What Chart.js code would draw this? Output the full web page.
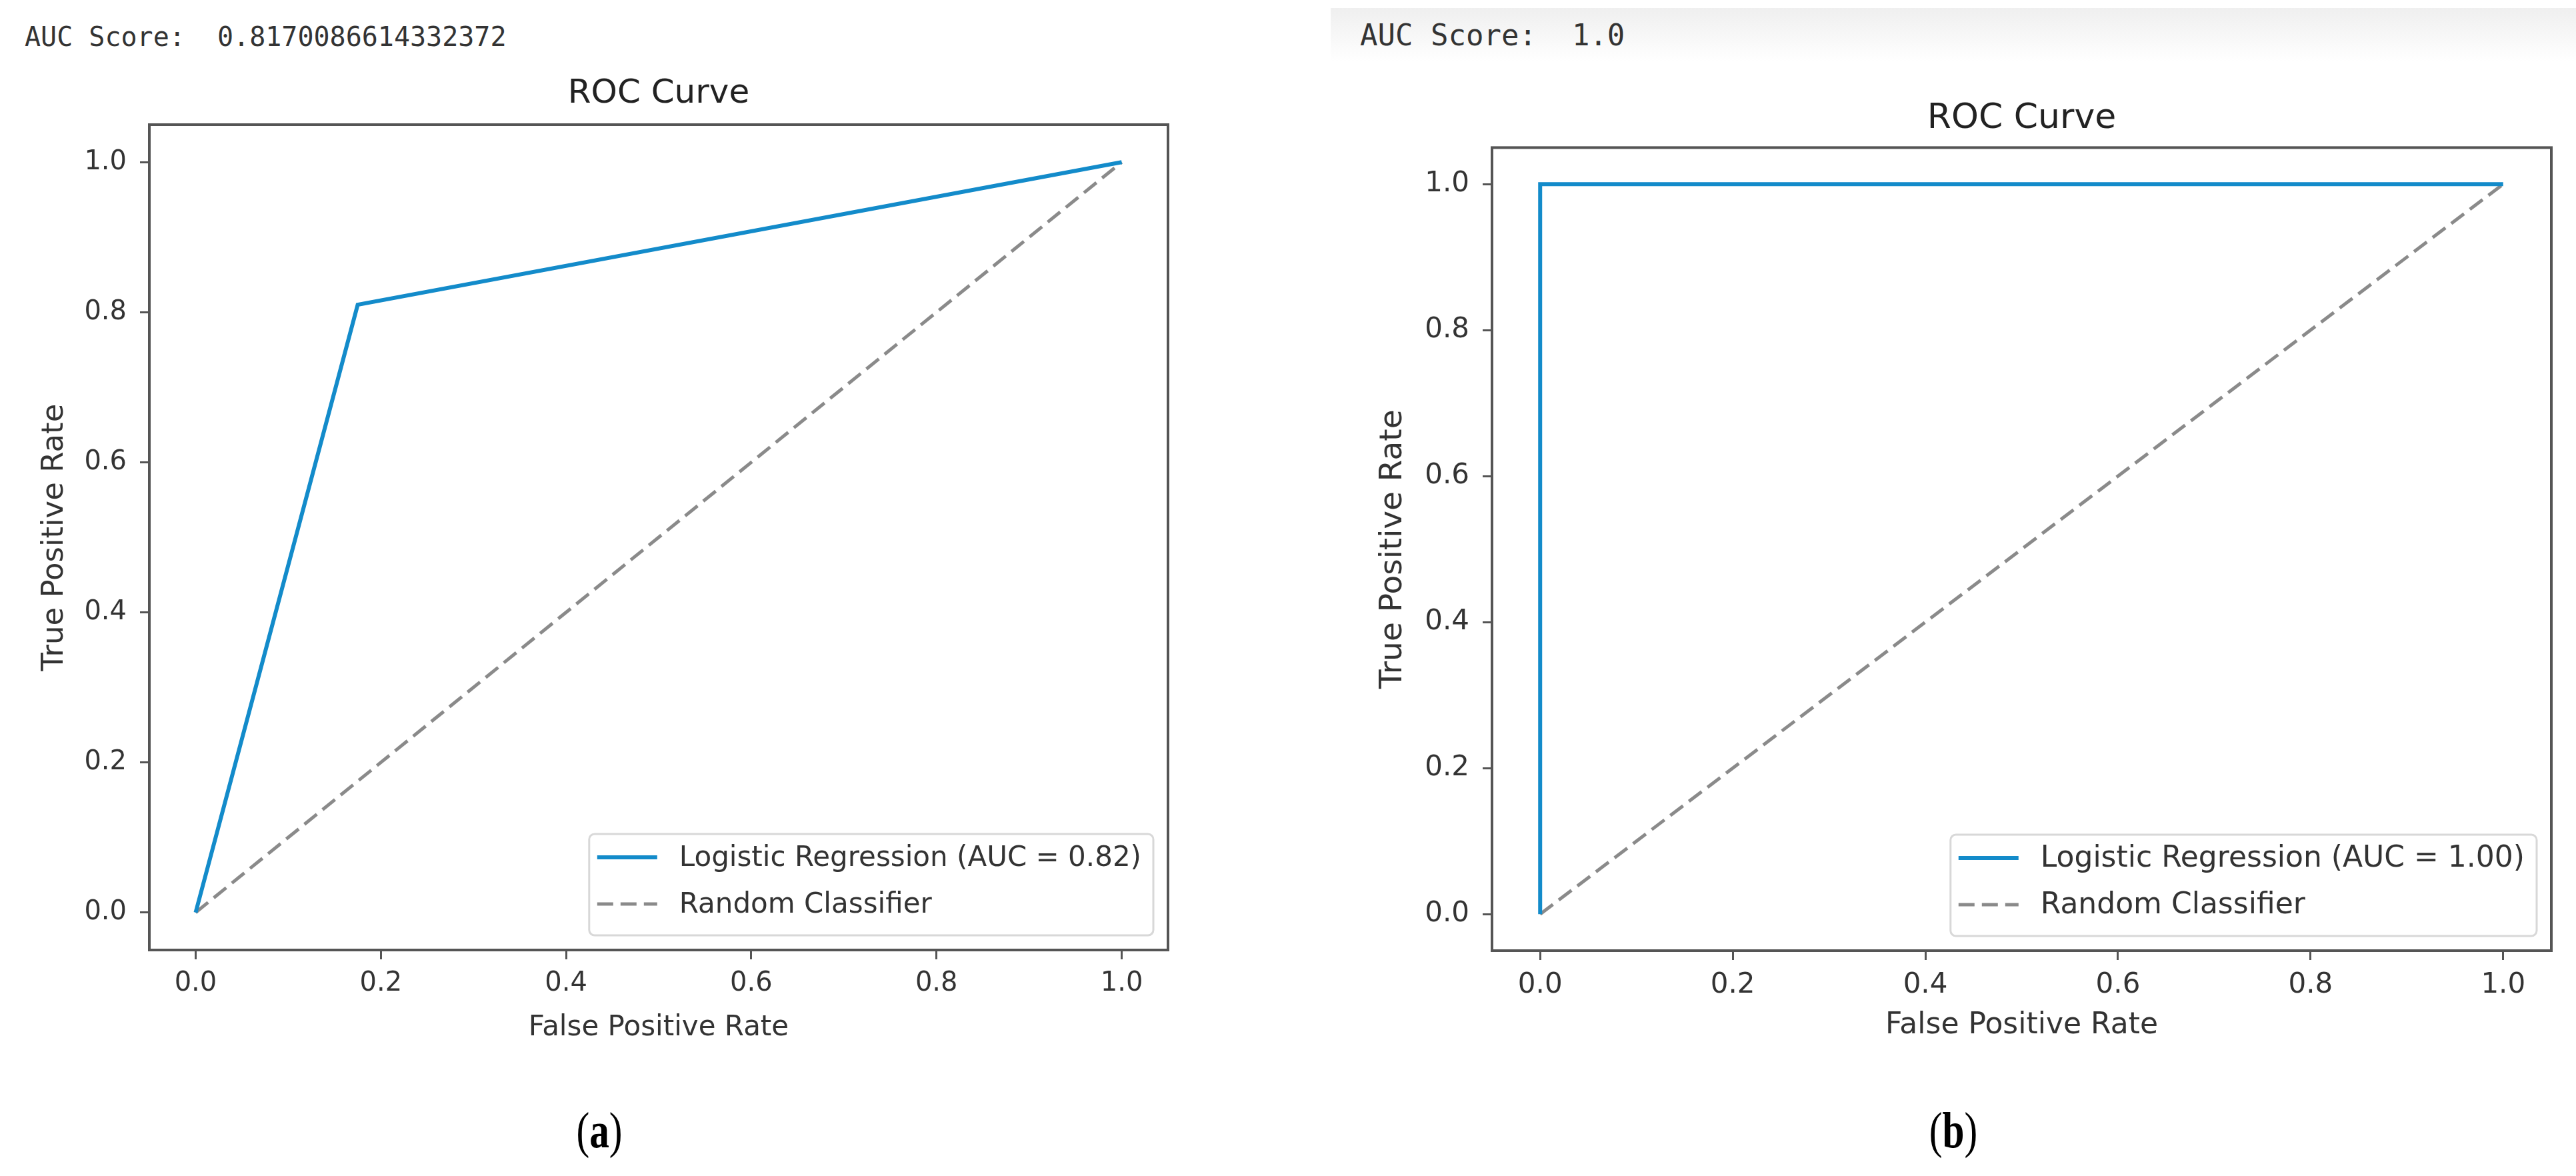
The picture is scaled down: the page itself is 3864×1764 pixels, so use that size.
<!DOCTYPE html>
<html>
<head>
<meta charset="utf-8">
<script src="https://cdn.jsdelivr.net/npm/chart.js@4.4.1/dist/chart.umd.min.js"></script>
<style>
  body { margin: 0; background: #fff; }
  #page { position: relative; width: 3864px; height: 1764px; overflow: hidden; background: #fff; }
  canvas { position: absolute; top: 0; }
  .auc { position: absolute; font-family: "DejaVu Sans Mono", monospace; color: #333; white-space: pre; transform: translateY(-50%); }
  .band { position: absolute; left: 1996px; top: 12px; width: 1868px; height: 80px; background: linear-gradient(#efefef, #fff); }
  .cap { position: absolute; top: 1695px; font-family: "Liberation Serif", serif; font-size: 76px; color: #000; transform: translate(-50%, -50%) scaleX(0.78); }
</style>
</head>
<body>
<div id="page">
  <div class="band"></div>
  <div class="auc" style="left:37px; top:55px; font-size:40px;">AUC Score:  0.8170086614332372</div>
  <div class="auc" style="left:2040px; top:52px; font-size:44px;">AUC Score:  1.0</div>
  <canvas id="rocA" width="1932" height="1764" style="left:0px"></canvas>
  <canvas id="rocB" width="1932" height="1764" style="left:1932px"></canvas>
  <div class="cap" style="left:899px">(<b>a</b>)</div>
  <div class="cap" style="left:2930px">(<b>b</b>)</div>
</div>
<script>
// panel (a)
let fprA = [0, 0.175, 1];
let tprA = [0, 0.81, 1];
// panel (b)
let fprB = [0, 0, 1];
let tprB = [0, 1, 1];
// chance line
let chanceX = [0, 1];
let chanceY = [0, 1];

let tickValues = [0, 0.2, 0.4, 0.6, 0.8, 1.0];
let labelsA = ['Logistic Regression (AUC = 0.82)', 'Random Classifier'];
let labelsB = ['Logistic Regression (AUC = 1.00)', 'Random Classifier'];

Chart.defaults.font.family = '"DejaVu Sans", sans-serif';
Chart.defaults.color = '#333';

const toPoints = (xs, ys) => xs.map((x, i) => ({x: x, y: ys[i]}));

// axes frame (all four spines)
const frame = {
	id: 'frame',
	afterDatasetsDraw(chart) {
		const {ctx, chartArea: a} = chart;
		ctx.save();
		ctx.strokeStyle = '#555';
		ctx.lineWidth = 4;
		ctx.strokeRect(a.left, a.top, a.right - a.left, a.bottom - a.top);
		ctx.restore();
	}
};

// matplotlib style legend, lower right inside the axes
const boxLegend = {
	id: 'boxLegend',
	afterDraw(chart, args, o) {
		const {ctx, chartArea: a} = chart;
		const sets = chart.data.datasets;
		ctx.save();
		ctx.font = o.size + 'px "DejaVu Sans"';
		const tw = Math.max(...sets.map(d => ctx.measureText(d.label).width));
		const w = 12 + 90 + 33 + tw + 18, h = 152;
		const x = a.right - 22 - w, y = a.bottom - 22 - h;
		ctx.beginPath();
		if (ctx.roundRect) ctx.roundRect(x, y, w, h, 8); else ctx.rect(x, y, w, h);
		ctx.fillStyle = 'rgba(255,255,255,0.85)';
		ctx.fill();
		ctx.strokeStyle = '#d8d8d8';
		ctx.lineWidth = 3;
		ctx.stroke();
		sets.forEach((d, i) => {
			const ry = y + 35 + i * 70;
			ctx.beginPath();
			ctx.setLineDash(d.borderDash || []);
			ctx.strokeStyle = d.borderColor;
			ctx.lineWidth = d.borderWidth;
			ctx.moveTo(x + 12, ry);
			ctx.lineTo(x + 102, ry);
			ctx.stroke();
			ctx.setLineDash([]);
			ctx.fillStyle = '#333';
			ctx.textBaseline = 'middle';
			ctx.fillText(d.label, x + 135, ry + 2);
		});
		ctx.restore();
	}
};

function axis(title, size, isX, fitSize, titlePad) {
	return {
		type: 'linear',
		min: -0.05,
		max: 1.05,
		afterBuildTicks: s => { s.ticks = tickValues.map(v => ({value: v})); },
		afterFit: s => { if (isX) s.height = fitSize; else s.width = fitSize; },
		ticks: {
			font: {size: size},
			padding: isX ? 13 : 20,
			callback: v => Number(v).toFixed(1)
		},
		grid: {drawOnChartArea: false, drawTicks: true, tickLength: 14, tickWidth: 3, tickColor: '#555'},
		border: {display: false},
		title: {display: true, text: title, font: {size: size + (isX ? 2 : 5)}, padding: titlePad}
	};
}

function rocChart(id, fpr, tpr, labels, s) {
	return new Chart(document.getElementById(id).getContext('2d'), {
		type: 'line',
		data: {
			datasets: [{
				label: labels[0],
				data: toPoints(fpr, tpr),
				borderColor: '#138bca',
				borderWidth: 6,
				pointRadius: 0,
				tension: 0
			}, {
				label: labels[1],
				data: toPoints(chanceX, chanceY),
				borderColor: '#8a8a8a',
				borderWidth: 5,
				borderDash: [24, 11],
				pointRadius: 0,
				tension: 0
			}]
		},
		options: {
			responsive: false,
			devicePixelRatio: 1,
			animation: false,
			layout: {padding: s.pad},
			scales: {
				x: axis('False Positive Rate', s.font, true, s.xh, {top: 0, bottom: 0}),
				y: axis('True Positive Rate', s.font, false, s.yw, {top: 0, bottom: 0})
			},
			plugins: {
				legend: {display: false},
				tooltip: {enabled: false},
				title: {
					display: true,
					text: 'ROC Curve',
					fullSize: false,
					color: '#222',
					font: {size: s.titleSize, weight: 'normal'},
					padding: {top: 0, bottom: s.titleGap}
				},
				boxLegend: {size: s.legendSize}
			}
		},
		plugins: [frame, boxLegend]
	});
}

let chartA = rocChart('rocA', fprA, tprA, labelsA, {
	pad: {left: 55, right: 180, top: 111, bottom: 197},
	font: 40, xh: 142, yw: 169, titleSize: 50, titleGap: 16, legendSize: 42
});

let chartB = rocChart('rocB', fprB, tprB, labelsB, {
	pad: {left: 130, right: 37, top: 147, bottom: 199},
	font: 42, xh: 139, yw: 176, titleSize: 52, titleGap: 12, legendSize: 44
});
</script>
</body>
</html>
